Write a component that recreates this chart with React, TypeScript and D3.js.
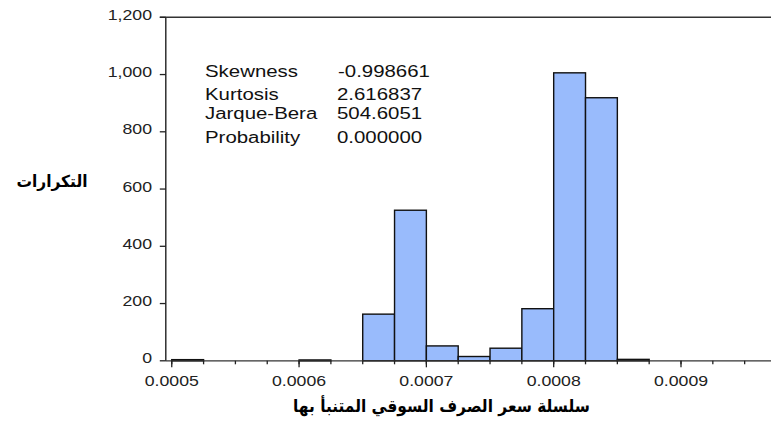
import React from 'react';
import * as d3 from 'd3';

// lower edge of each non-empty bin, bin width 0.000025
const binStarts = [0.0005, 0.0006, 0.00065, 0.000675, 0.0007, 0.000725, 0.00075, 0.000775, 0.0008, 0.000825, 0.00085];
const counts = [4, 3, 163, 526, 52, 15, 44, 182, 1006, 919, 5];
const binWidth = 0.000025;

const majorTicks = [0.0005, 0.0006, 0.0007, 0.0008, 0.0009];
const yTicks = [0, 200, 400, 600, 800, 1000, 1200];

const statNames = ['Skewness', 'Kurtosis', 'Jarque-Bera', 'Probability'];
const statValues = ['-0.998661', '2.616837', '504.6051', '0.000000'];

const yLabel = 'التكرارات';
const xLabel = 'سلسلة سعر الصرف السوقي المتنبأ بها';

const W = 771;
const H = 423;
const axisLeft = 165.8;
const axisRight = 771;
const baseY = 360.8;
const topY = 17.3;
const stretch = 1.18;
const latin = "'Liberation Sans', Arial, sans-serif";

const App = () => {
  const x = d3.scaleLinear().domain([0.0005, 0.0009]).range([171.75, 681]);
  const y = d3.scaleLinear().domain([0, 1200]).range([baseY, topY]);
  const minorTicks = d3.range(0, 19).map(i => 0.0005 + i * binWidth);
  const fmt = d3.format(',');
  const statRows = [76.5, 99.5, 119, 142.5];

  return (
    <svg width={W} height={H} viewBox={`0 0 ${W} ${H}`}
      style={{ position: 'absolute', left: 0, top: 0, background: '#fff' }}>
      {/* bars */}
      {binStarts.map((s, i) => (
        <rect key={i}
          x={x(s)} y={y(counts[i])}
          width={x(s + binWidth) - x(s)} height={baseY - y(counts[i])}
          fill="#99bbfc" stroke="#111" strokeWidth={1.4} />
      ))}

      {/* frame lines */}
      <line x1={axisLeft} x2={axisLeft} y1={topY} y2={baseY} stroke="#222" strokeWidth={1.4} />
      <line x1={axisLeft - 6} x2={axisRight} y1={topY} y2={topY} stroke="#333" strokeWidth={1.4} />
      <line x1={axisLeft} x2={axisRight} y1={baseY} y2={baseY} stroke="#333" strokeWidth={1.3} />

      {/* y ticks */}
      {yTicks.map(t => (
        <g key={t}>
          <line x1={axisLeft - 6} x2={axisLeft} y1={y(t)} y2={y(t)} stroke="#222" strokeWidth={1.3} />
          <text transform={`translate(152,${y(t) + 2.6}) scale(${stretch},1)`}
            textAnchor="end" fontFamily={latin} fontSize={15} fill="#222">{fmt(t)}</text>
        </g>
      ))}

      {/* x ticks */}
      {minorTicks.map((t, i) => (
        <line key={i} x1={x(t)} x2={x(t)} y1={baseY} y2={baseY + 3.5} stroke="#222" strokeWidth={1.3} />
      ))}
      {majorTicks.map(t => (
        <g key={t}>
          <line x1={x(t)} x2={x(t)} y1={baseY} y2={baseY + 6.5} stroke="#222" strokeWidth={1.3} />
          <text transform={`translate(${x(t)},386) scale(${stretch},1)`}
            textAnchor="middle" fontFamily={latin} fontSize={15} fill="#222">{String(t)}</text>
        </g>
      ))}

      {/* statistics box */}
      {statNames.map((n, i) => (
        <g key={n}>
          <text transform={`translate(205,${statRows[i]}) scale(${stretch},1)`}
            fontFamily={latin} fontSize={17.3} fill="#111">{n}</text>
          <text transform={`translate(${i === 0 ? 338 : 337},${statRows[i]}) scale(${stretch},1)`}
            fontFamily={latin} fontSize={17.3} fill="#111">{statValues[i]}</text>
        </g>
      ))}

      {/* axis titles */}
      <text x={52} y={187} textAnchor="middle" fontFamily="'DejaVu Sans', sans-serif"
        fontWeight="bold" fontSize={16.5} fill="#000" textLength={71} lengthAdjust="spacingAndGlyphs"
        direction="rtl">{yLabel}</text>
      <text x={441.5} y={412} textAnchor="middle" fontFamily="'DejaVu Sans', sans-serif"
        fontWeight="bold" fontSize={17.5} fill="#000" textLength={297} lengthAdjust="spacingAndGlyphs"
        direction="rtl">{xLabel}</text>
    </svg>
  );
};

export default App;
